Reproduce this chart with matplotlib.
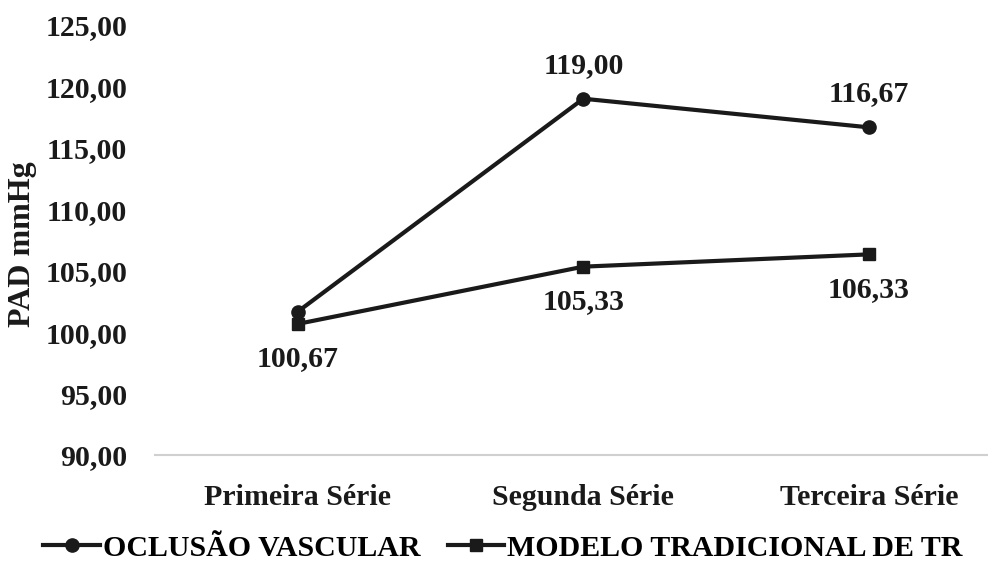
import matplotlib
matplotlib.use("Agg")
import matplotlib.pyplot as plt

categories = ["Primeira Série", "Segunda Série", "Terceira Série"]
oclusao = [101.67, 119.00, 116.67]
modelo = [100.67, 105.33, 106.33]
oclusao_labels = [None, "119,00", "116,67"]
modelo_labels = ["100,67", "105,33", "106,33"]
yticks = [90, 95, 100, 105, 110, 115, 120, 125]

plt.rcParams['font.family'] = ['Liberation Serif', 'DejaVu Serif']
plt.rcParams['font.weight'] = 'bold'

fig = plt.figure(figsize=(9.88, 5.61), dpi=100)
W, H = 988, 561
ax = fig.add_axes([155 / W, 1 - 455 / H, (988 - 155) / W, (455 - 25) / H])

x = list(range(len(categories)))
l1, = ax.plot(x, oclusao, color='#1a1a1a', lw=3, marker='o', ms=9.5,
              label='OCLUSÃO VASCULAR')
l2, = ax.plot(x, modelo, color='#1a1a1a', lw=3, marker='s', ms=9,
              label='MODELO TRADICIONAL DE TR')

for xi, v, lab in zip(x, oclusao, oclusao_labels):
    if lab:
        ax.annotate(lab, (xi, v), xytext=(0, 24), textcoords='offset points',
                    ha='center', va='center', fontsize=21.5, fontweight='bold',
                    color='#1a1a1a')
for xi, v, lab in zip(x, modelo, modelo_labels):
    ax.annotate(lab, (xi, v), xytext=(0, -25), textcoords='offset points',
                ha='center', va='center', fontsize=21.5, fontweight='bold',
                color='#1a1a1a')

ax.set_xlim(-0.5, 2.417)
ax.set_ylim(90, 125)
ax.set_yticks(yticks)
ax.set_yticklabels([f"{t:.2f}".replace('.', ',') for t in yticks],
                   fontsize=21.5, fontweight='bold', color='#1a1a1a')
ax.set_xticks(x)
ax.set_xticklabels(categories, fontsize=21.5, fontweight='bold', color='#1a1a1a')
ax.tick_params(length=0)
ax.tick_params(axis='y', pad=20)
ax.tick_params(axis='x', pad=21)
for s in ['top', 'right', 'left']:
    ax.spines[s].set_visible(False)
ax.spines['bottom'].set_color('#d0d0d0')
ax.spines['bottom'].set_linewidth(1.5)

ax.set_ylabel('PAD mmHg', fontsize=23, fontweight='bold', color='#1a1a1a')
ax.yaxis.set_label_coords((37 - 155) / 833, 0.49)

fig.legend(handles=[l1, l2], loc='center', bbox_to_anchor=(503 / W, 1 - 548 / H),
           ncol=2, frameon=False, handlelength=1.9,
           handletextpad=0.1, columnspacing=0.9,
           prop={'family': 'Liberation Serif', 'weight': 'bold', 'size': 21.5})

fig.savefig('out.png', dpi=100)
